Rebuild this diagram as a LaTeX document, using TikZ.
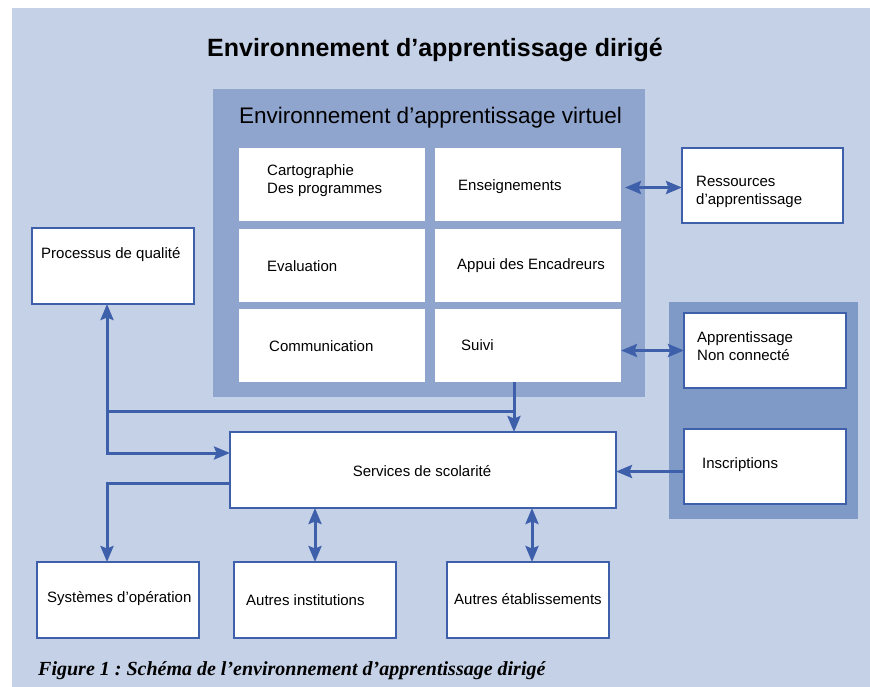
\documentclass[tikz,border=0pt]{standalone}
\usepackage{fontspec}
\setmainfont{Liberation Sans}
\newfontfamily\capfont{Liberation Serif}
\usetikzlibrary{arrows.meta}
\frenchspacing
\definecolor{bgblue}{RGB}{197,209,231}
\definecolor{vlecol}{RGB}{143,165,206}
\definecolor{rpcol}{RGB}{128,154,200}
\definecolor{linecol}{RGB}{62,96,170}
\tikzset{
  panelbox/.style={inner sep=0pt, outer sep=0pt, anchor=north west},
  wbox/.style={fill=white, inner sep=0pt, outer sep=0pt, anchor=north west},
  bbox/.style={fill=white, draw=linecol, line width=2.2pt, inner sep=0pt, outer sep=0pt, anchor=north west},
  txt/.style={anchor=west, inner sep=0pt, font=\fontsize{15}{18}\selectfont, align=left},
  conn/.style={draw=linecol, line width=3pt},
  tip/.style={-{Stealth[length=16pt,width=13pt,inset=2.5pt]}},
  dtip/.style={{Stealth[length=16pt,width=13pt,inset=2.5pt]}-{Stealth[length=16pt,width=13pt,inset=2.5pt]}}
}
\begin{document}
\begin{tikzpicture}[x=1pt,y=-1pt]
\useasboundingbox (0,0) rectangle (870,687);
\fill[bgblue] (12,8) rectangle (870,687);

% title
\node[inner sep=0pt, font=\bfseries\fontsize{25}{29}\selectfont] (title) at (435,50) {Environnement d’apprentissage dirigé};

% virtual environment panel
\node[panelbox, fill=vlecol, minimum width=432pt, minimum height=308pt] (vle) at (213,89) {};
\node[anchor=west, inner sep=0pt, font=\fontsize{22.5}{26}\selectfont] (vletitle) at (239,118) {Environnement d’apprentissage virtuel};

\node[wbox, minimum width=186pt, minimum height=73pt] (cart) at (239,148) {};
\node[wbox, minimum width=186pt, minimum height=73pt] (ens) at (435,148) {};
\node[wbox, minimum width=186pt, minimum height=73pt] (eval) at (239,229) {};
\node[wbox, minimum width=186pt, minimum height=73pt] (appui) at (435,229) {};
\node[wbox, minimum width=186pt, minimum height=73pt] (comm) at (239,309) {};
\node[wbox, minimum width=186pt, minimum height=73pt] (suivi) at (435,309) {};

\node[txt] (tcart) at (267,181) {Cartographie\\Des programmes};
\node[txt] (tens) at (458,187) {Enseignements};
\node[txt] (teval) at (267,266) {Evaluation};
\node[txt] (tappui) at (457,266) {Appui des Encadreurs};
\node[txt] (tcomm) at (269,346) {Communication};
\node[txt] (tsuivi) at (461,345) {Suivi};

% right side
\node[bbox, minimum width=161pt, minimum height=75pt] (res) at (682,148) {};
\node[txt] (tres) at (696,192) {Ressources\\d’apprentissage};

\node[panelbox, fill=rpcol, minimum width=189pt, minimum height=217pt] (rpanel) at (669,302) {};
\node[bbox, minimum width=162pt, minimum height=75pt] (app) at (684,313) {};
\node[txt] (tapp) at (697,346.5) {Apprentissage\\Non connecté};
\node[bbox, minimum width=162pt, minimum height=75pt] (insc) at (684,429) {};
\node[txt] (tinsc) at (702,465) {Inscriptions};

% left
\node[bbox, minimum width=162pt, minimum height=76pt] (proc) at (32,228) {};
\node[txt] (tproc) at (41,255) {Processus de qualité};

% services
\node[bbox, minimum width=386pt, minimum height=76pt] (serv) at (230,432) {};
\node[inner sep=0pt, font=\fontsize{15}{18}\selectfont] (tserv) at (422,471) {Services de scolarité};

% bottom
\node[bbox, minimum width=162pt, minimum height=76pt] (sys) at (37,562) {};
\node[txt] (tsys) at (47,599) {Systèmes d’opération};
\node[bbox, minimum width=162pt, minimum height=76pt] (ainst) at (234,562) {};
\node[txt] (tainst) at (246,600) {Autres institutions};
\node[bbox, minimum width=162pt, minimum height=76pt] (aetab) at (447,562) {};
\node[txt] (taetab) at (454,599) {Autres établissements};

% connectors
\coordinate (a1) at ([xshift=4pt,yshift=-3pt]ens.east);
\draw[conn, dtip] (a1) -- (a1 -| res.west);
\draw[conn, dtip] (suivi.east |- app.west) -- (app.west);
\coordinate (a2) at ([yshift=-5pt]insc.west);
\draw[conn, tip] (a2) -- (a2 -| serv.east);

\coordinate (j1) at (514,411);
\draw[conn, tip] (suivi.south -| j1) -- (serv.north -| j1);
\coordinate (k) at (107,453);
\draw[conn, dtip] (k |- proc.south) -- (k) -- (k -| serv.west);
\draw[conn] (k |- j1) -- (j1);

\coordinate (m) at (107,483);
\draw[conn, tip] (serv.west |- m) -- (m) -- (m |- sys.north);

\draw[conn, dtip] (serv.south -| ainst.north) -- (ainst.north);
\coordinate (n) at (532,535);
\draw[conn, dtip] (serv.south -| n) -- (aetab.north -| n);

% caption
\node[anchor=west, inner sep=0pt, font=\capfont\bfseries\itshape\fontsize{20}{24}\selectfont] (cap) at (38,671) {Figure 1 : Schéma de l’environnement d’apprentissage dirigé};
\end{tikzpicture}
\end{document}
